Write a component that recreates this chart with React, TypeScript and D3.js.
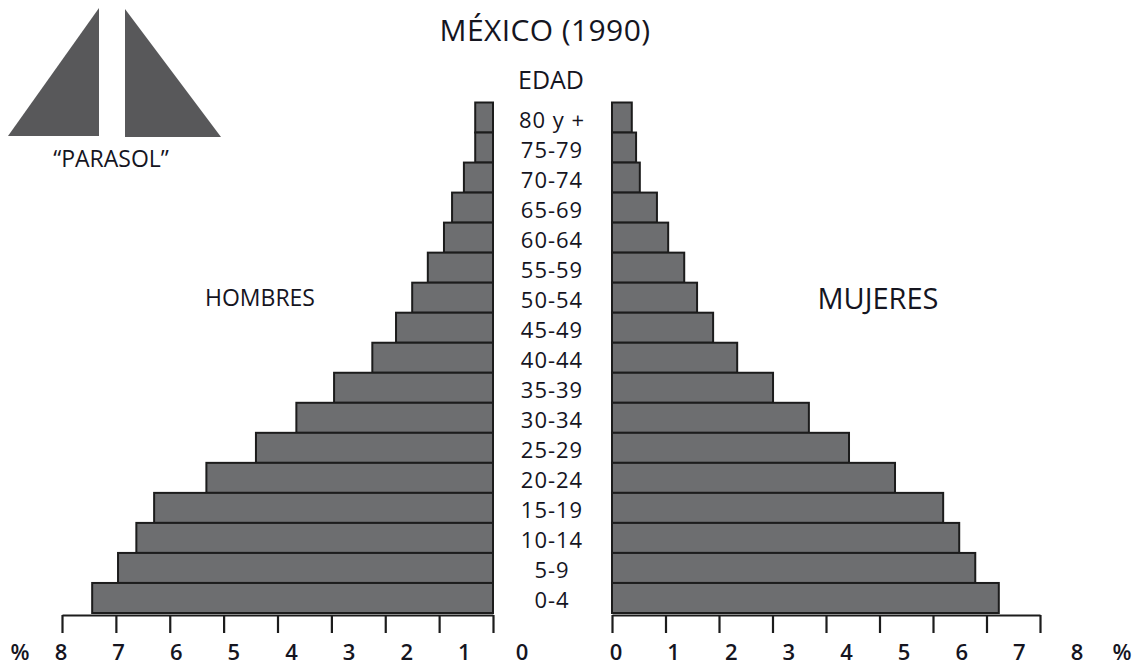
import React, { useEffect, useRef } from 'react';
import * as d3 from 'd3';

// age groups, top to bottom
const ageGroups = [
    "80 y +", "75-79", "70-74", "65-69", "60-64", "55-59", "50-54", "45-49", "40-44",
    "35-39", "30-34", "25-29", "20-24", "15-19", "10-14", "5-9", "0-4",
];
// % of population
const hombres = [0.33, 0.33, 0.54, 0.76, 0.91, 1.21, 1.50, 1.80, 2.24, 2.95, 3.65, 4.40, 5.32, 6.29, 6.62, 6.96, 7.44];
const mujeres = [0.37, 0.45, 0.52, 0.84, 1.05, 1.35, 1.59, 1.89, 2.34, 3.01, 3.68, 4.43, 5.29, 6.19, 6.49, 6.79, 7.23];

const tickValues = [0, 1, 2, 3, 4, 5, 6, 7, 8];
const tickLabels = ["0", "1", "2", "3", "4", "5", "6", "7", "8"];

const width = 1143;
const height = 665;
const font = "'Open Sans', 'Noto Sans', sans-serif";
const ink = "#15151f";
const barFill = "#6d6e70";
const barStroke = "#1c1c1c";

export default function App() {
    const ref = useRef(null);

    useEffect(() => {
        const svg = d3.select(ref.current);
        svg.selectAll("*").remove();

        const baseY = 615;

        const y = d3.scaleBand()
            .domain(ageGroups)
            .range([102.5, 613])
            .padding(0);
        const xLeft = d3.scaleLinear().domain([0, 8]).range([493, 62]);
        const xRight = d3.scaleLinear().domain([0, 8]).range([612, 1040]);
        // the printed tick numbers sit a bit wider apart than the ticks
        const labelLeft = d3.scaleLinear().domain([0, 8]).range([522, 61]);
        const labelRight = d3.scaleLinear().domain([0, 8]).range([616, 1077]);

        // parasol icon
        const icon = svg.append("g").attr("fill", "#58585a");
        icon.append("path").attr("d", "M8,136 L99,8 L99,136 Z");
        icon.append("path").attr("d", "M125,9 L221,137 L125,137 Z");
        svg.append("text")
            .attr("x", 111).attr("y", 167)
            .attr("text-anchor", "middle")
            .attr("font-size", 23)
            .attr("fill", ink)
            .text("\u201CPARASOL\u201D");

        svg.append("text")
            .attr("x", 545).attr("y", 41)
            .attr("text-anchor", "middle")
            .attr("font-size", 30)
            .attr("letter-spacing", 0.4)
            .attr("fill", ink)
            .text("MÉXICO (1990)");
        svg.append("text")
            .attr("x", 551).attr("y", 89)
            .attr("text-anchor", "middle")
            .attr("font-size", 25)
            .attr("fill", ink)
            .text("EDAD");

        // bars
        svg.append("g")
            .selectAll("rect")
            .data(hombres)
            .enter()
            .append("rect")
              .attr("x", d => xLeft(d))
              .attr("y", (_d, i) => y(ageGroups[i]) as number)
              .attr("width", d => xLeft(0) - xLeft(d))
              .attr("height", y.bandwidth())
              .attr("fill", barFill)
              .attr("stroke", barStroke)
              .attr("stroke-width", 2);
        svg.append("g")
            .selectAll("rect")
            .data(mujeres)
            .enter()
            .append("rect")
              .attr("x", xRight(0))
              .attr("y", (_d, i) => y(ageGroups[i]) as number)
              .attr("width", d => xRight(d) - xRight(0))
              .attr("height", y.bandwidth())
              .attr("fill", barFill)
              .attr("stroke", barStroke)
              .attr("stroke-width", 2);

        // age labels
        svg.append("g")
            .selectAll("text")
            .data(ageGroups)
            .enter()
            .append("text")
              .attr("x", 552)
              .attr("y", d => (y(d) as number) + y.bandwidth() / 2 + 10)
              .attr("text-anchor", "middle")
              .attr("font-size", 22)
              .attr("letter-spacing", 1)
              .attr("fill", ink)
              .text(d => d);

        svg.append("text")
            .attr("x", 260).attr("y", 306)
            .attr("text-anchor", "middle")
            .attr("font-size", 23)
            .attr("fill", ink)
            .text("HOMBRES");
        svg.append("text")
            .attr("x", 878).attr("y", 309)
            .attr("text-anchor", "middle")
            .attr("font-size", 29)
            .attr("fill", ink)
            .text("MUJERES");

        // axes: ticks only, numbers placed separately
        const drawAxis = (scale: d3.ScaleLinear<number, number>) => {
            const g = svg.append("g")
                .attr("transform", `translate(0, ${baseY})`)
                .call(d3.axisBottom(scale)
                    .tickValues(tickValues)
                    .tickSize(18)
                    .tickSizeOuter(0)
                    .tickFormat(() => "")
                );
            g.select(".domain").attr("stroke", barStroke).attr("stroke-width", 2);
            g.selectAll(".tick line").attr("stroke", barStroke).attr("stroke-width", 2.2);
        };
        drawAxis(xLeft);
        drawAxis(xRight);

        const drawLabels = (scale: d3.ScaleLinear<number, number>) => {
            svg.append("g")
                .selectAll("text")
                .data(tickValues)
                .enter()
                .append("text")
                  .attr("x", d => scale(d))
                  .attr("y", 660)
                  .attr("text-anchor", "middle")
                  .attr("font-size", 22)
                  .attr("font-weight", 600)
                  .attr("fill", ink)
                  .text((_d, i) => tickLabels[i]);
        };
        drawLabels(labelLeft);
        drawLabels(labelRight);

        svg.append("text")
            .attr("x", 20).attr("y", 660)
            .attr("text-anchor", "middle")
            .attr("font-size", 22)
            .attr("font-weight", 600)
            .attr("fill", ink)
            .text("%");
        svg.append("text")
            .attr("x", 1122).attr("y", 660)
            .attr("text-anchor", "middle")
            .attr("font-size", 22)
            .attr("font-weight", 600)
            .attr("fill", ink)
            .text("%");
    }, []);

    return (
        <svg
            ref={ref}
            width={width}
            height={height}
            viewBox={`0 0 ${width} ${height}`}
            style={{ position: 'absolute', left: 0, top: 0, background: '#fff', fontFamily: font }}
        >
        </svg>
    );
}
